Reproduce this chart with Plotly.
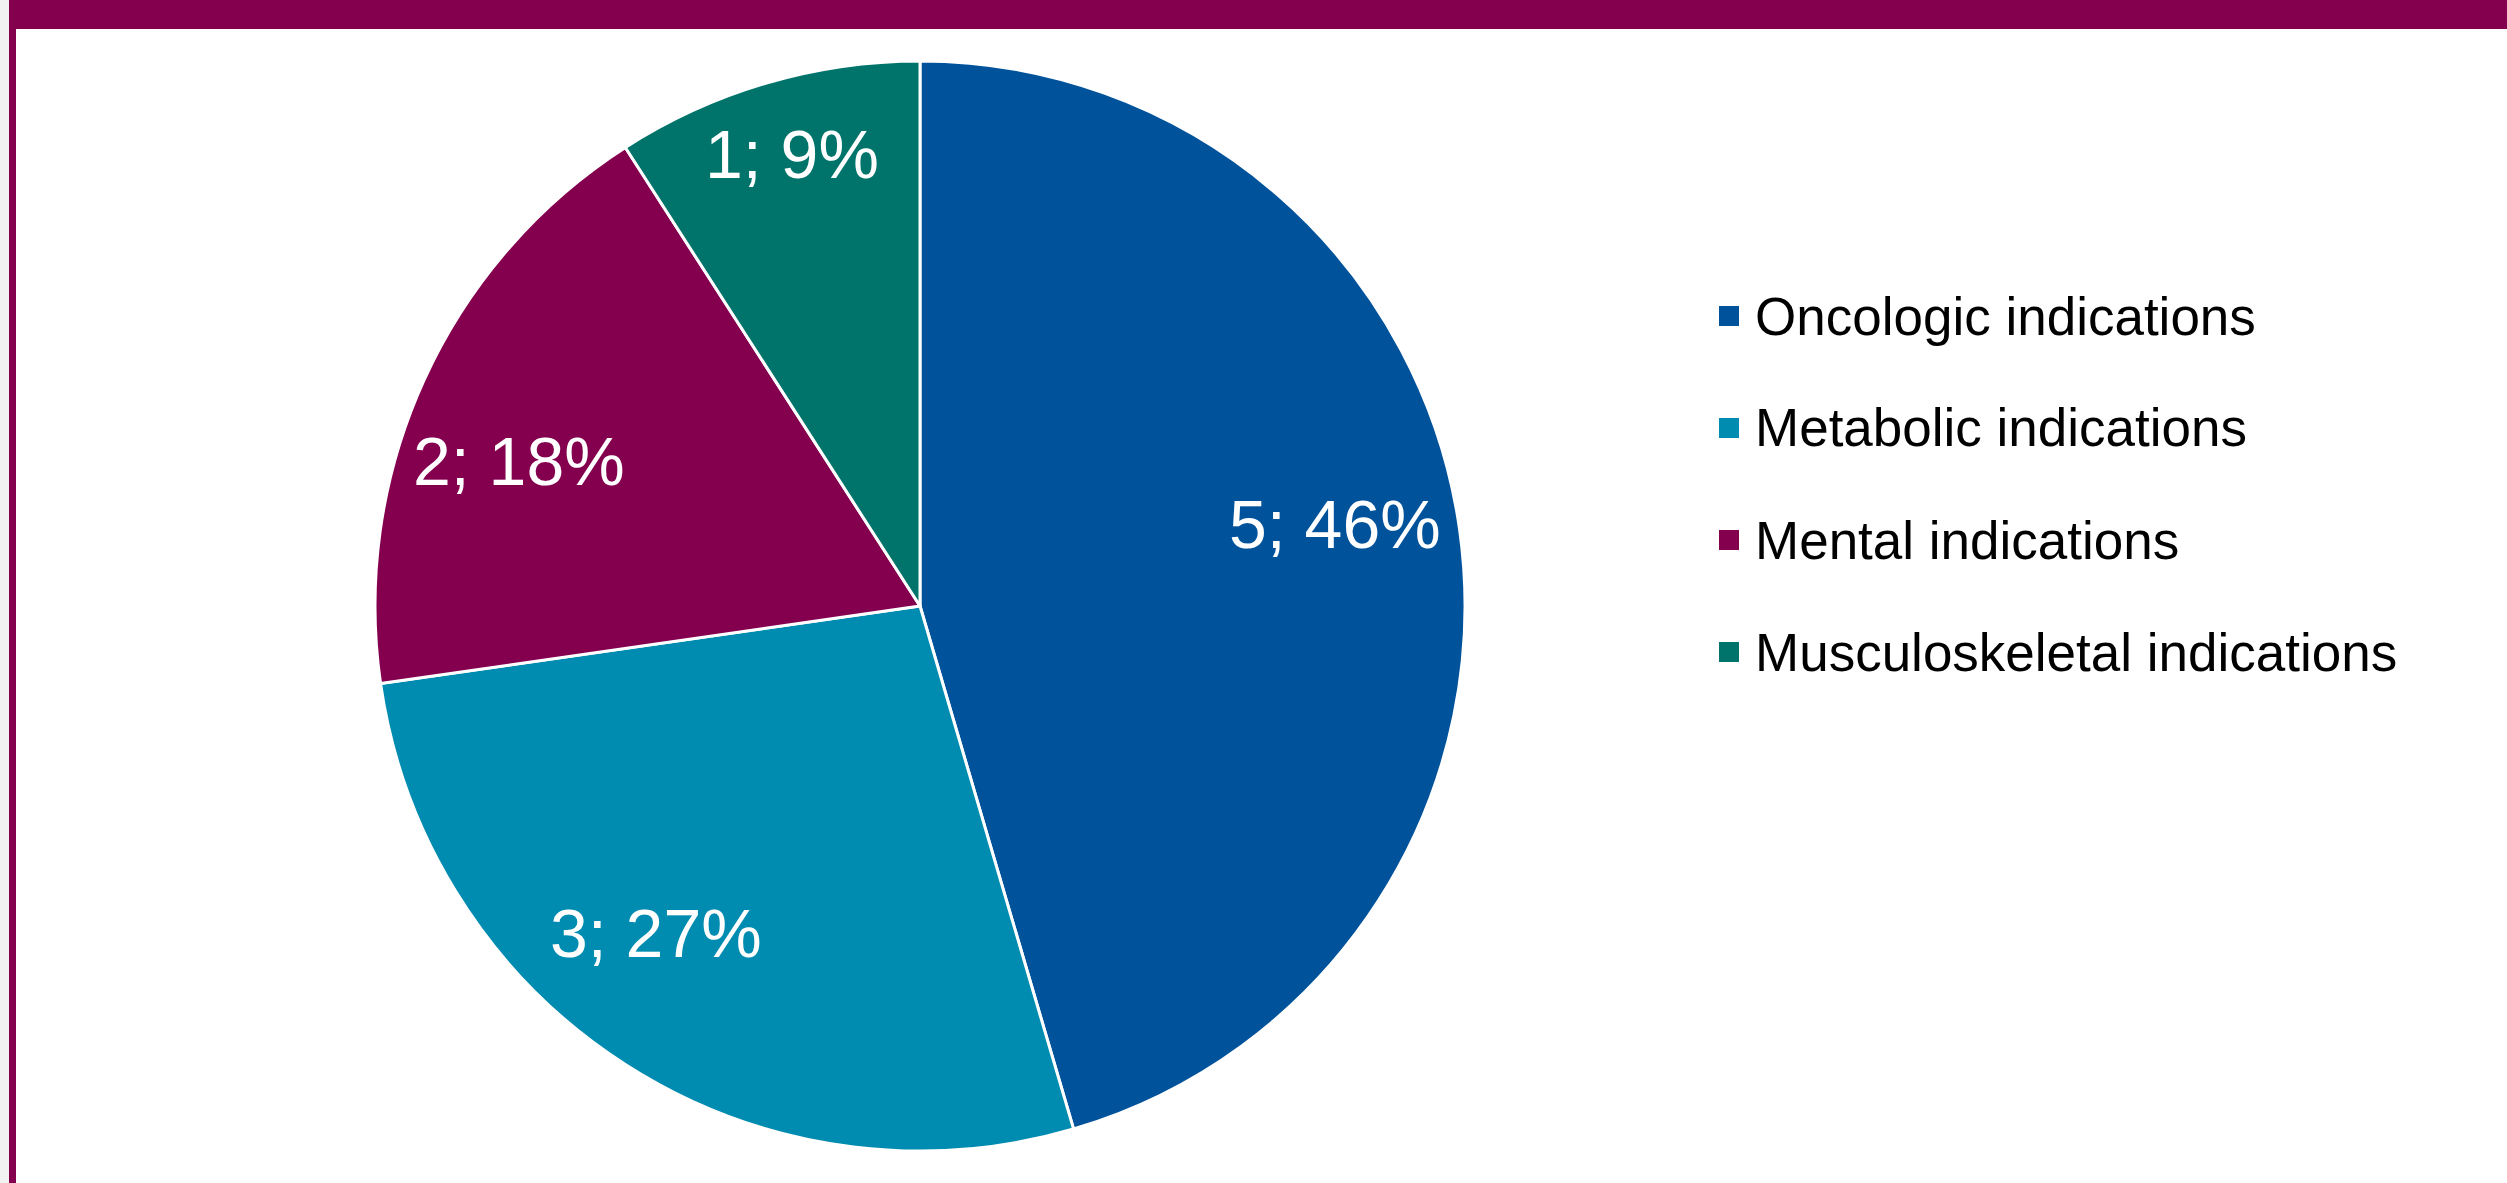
import math
import plotly.graph_objects as go

W, H = 2507, 1183

categories = ["Oncologic indications", "Metabolic indications",
              "Mental indications", "Musculoskeletal indications"]
counts = [5, 3, 2, 1]
percent_labels = [46, 27, 18, 9]
colors = ["#00529b", "#008bb0", "#84004f", "#00746a"]
accent = "#84004f"

texts = [f"{c}; {p}%" for c, p in zip(counts, percent_labels)]

# pie geometry (pixels) -- layout settings
CX, CY, R = 920, 606, 545
# Excel "best fit" label placement: distance (fraction of radius) and pixel nudges
label_radius = [0.78, 0.78, 0.79, 0.86]
label_nudge = [(-6, -22), (-34, -31), (-9, 34), (4, -2)]

fig = go.Figure()
fig.add_trace(go.Pie(
    labels=categories,
    values=counts,
    text=texts,
    textinfo="none",
    marker=dict(colors=colors, line=dict(color="white", width=3)),
    sort=False,
    direction="clockwise",
    rotation=0,
    showlegend=False,
    hovertemplate="%{label}<br>%{text}<extra></extra>",
    domain=dict(x=[(CX - R) / W, (CX + R) / W],
                y=[(H - CY - R) / H, (H - CY + R) / H]),
))

shapes = []
# light gray strip at far left
shapes.append(dict(type="rect", xref="paper", yref="paper", x0=0, x1=9 / W, y0=0, y1=1,
                   fillcolor="#f2f2f2", line=dict(width=0), layer="below"))
# purple left border
shapes.append(dict(type="rect", xref="paper", yref="paper", x0=9 / W, x1=16 / W, y0=0, y1=1,
                   fillcolor=accent, line=dict(width=0), layer="below"))
# purple top bar
shapes.append(dict(type="rect", xref="paper", yref="paper", x0=9 / W, x1=1, y0=1 - 29 / H, y1=1,
                   fillcolor=accent, line=dict(width=0), layer="below"))

annotations = []

# data labels placed around each slice's mid-angle (derived from the values)
total = sum(counts)
cum = 0
for c, t, rf, (nx, ny) in zip(counts, texts, label_radius, label_nudge):
    mid = (cum + c / 2) / total * 2 * math.pi
    cum += c
    px = CX + rf * R * math.sin(mid)
    py = CY - rf * R * math.cos(mid)
    annotations.append(dict(xref="paper", yref="paper", x=px / W, y=1 - py / H,
                            xshift=nx, yshift=-ny,
                            xanchor="center", yanchor="middle", showarrow=False,
                            text=t,
                            font=dict(family="Arial, Liberation Sans, sans-serif",
                                      size=68, color="white")))

# legend
row_y = [316, 428, 540, 652]
for cat, col, yc in zip(categories, colors, row_y):
    shapes.append(dict(type="rect", xref="paper", yref="paper",
                       x0=1719 / W, x1=1739 / W,
                       y0=1 - (yc + 10) / H, y1=1 - (yc - 10) / H,
                       fillcolor=col, line=dict(width=0)))
    annotations.append(dict(xref="paper", yref="paper", x=1753 / W, y=1 - yc / H,
                            xanchor="left", yanchor="middle", showarrow=False,
                            text=cat,
                            font=dict(family="Arial, Liberation Sans, sans-serif",
                                      size=53, color="black")))

fig.update_layout(
    width=W, height=H,
    margin=dict(l=0, r=0, t=0, b=0),
    paper_bgcolor="white",
    plot_bgcolor="white",
    shapes=shapes,
    annotations=annotations,
)

fig.write_html("out.html")
